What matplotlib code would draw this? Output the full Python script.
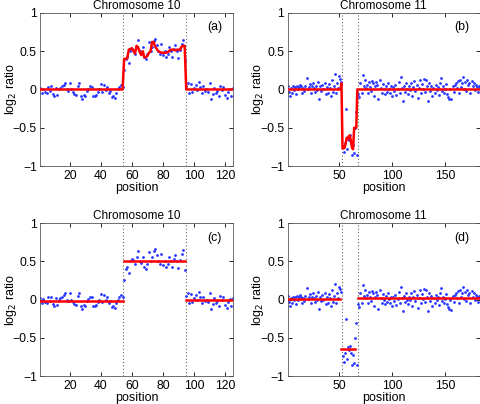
import numpy as np
import matplotlib
matplotlib.use("Agg")
import matplotlib.pyplot as plt

plt.rcParams['font.family'] = ['Liberation Sans', 'DejaVu Sans']
plt.rcParams['font.size'] = 8.5

# chromosome 10: log2 ratios, positions 1..125
chr10_vals = [
    0.02, -0.04, 0.01, -0.03, -0.05, 0.03, -0.02, 0.04, -0.06, -0.09,
    0.02, -0.07, 0.00, 0.02, 0.04, 0.06, 0.09, 0.00, -0.02, 0.08,
    0.00, -0.03, -0.06, -0.07, 0.05, 0.09, -0.09, -0.12, -0.07, -0.08,
    -0.02, 0.01, 0.04, 0.03, -0.09, -0.09, -0.07, -0.03, 0.00, 0.07,
    -0.03, 0.06, -0.01, 0.03, -0.05, -0.02, -0.10, -0.08, -0.11, -0.04,
    0.00, 0.03, 0.06, 0.03,
    0.25, 0.40, 0.42, 0.35, 0.50, 0.53, 0.52, 0.47, 0.55, 0.64,
    0.50, 0.48, 0.55, 0.42, 0.40, 0.47, 0.62, 0.50, 0.55, 0.63,
    0.66, 0.58, 0.50, 0.47, 0.60, 0.45, 0.50, 0.42, 0.47, 0.55,
    0.50, 0.42, 0.53, 0.58, 0.50, 0.41, 0.52, 0.60, 0.65, 0.38,
    0.05, 0.09, -0.04, 0.07, -0.03, 0.02, 0.06, -0.01, 0.10, 0.03,
    -0.05, 0.04, -0.02, 0.00, -0.03, 0.08, -0.12, -0.06, 0.02, -0.04,
    -0.02, -0.08, 0.05, -0.01, 0.03, -0.07, -0.11, -0.03, 0.01, -0.09,
    0.02,
]

# smoothed fit for chromosome 10 (panel a)
chr10_fit = [0.0] * 54 + [
    0.40, 0.40, 0.41, 0.52, 0.53, 0.54, 0.50, 0.47, 0.57, 0.55,
    0.49, 0.45, 0.50, 0.42, 0.42, 0.44, 0.48, 0.50, 0.62, 0.62,
    0.56, 0.53, 0.50, 0.49, 0.48, 0.48, 0.48, 0.48, 0.49, 0.50,
    0.52, 0.52, 0.52, 0.51, 0.52, 0.52, 0.52, 0.56, 0.57, 0.57,
] + [0.0] * 31

# chromosome 11: log2 ratios, positions 1..183
chr11_vals = [
    0.05, -0.03, -0.08, 0.02, -0.05, 0.04, -0.01, 0.03, -0.06, 0.05,
    0.00, 0.03, 0.06, 0.04, -0.04, 0.02, -0.02, 0.05, 0.15, 0.01,
    0.03, 0.07, -0.05, 0.04, 0.08, 0.02, -0.03, 0.05, -0.01, 0.10,
    -0.12, 0.04, -0.02, 0.06, 0.00, 0.09, -0.06, 0.03, -0.04, 0.07,
    0.02, -0.08, 0.12, -0.03, 0.05, 0.20, -0.05, 0.08, 0.02, 0.17,
    0.14, 0.10,
    -0.74, -0.82, -0.70, -0.26, -0.78, -0.62, -0.66, -0.60, -0.70, -0.85,
    -0.72, -0.83, -0.50, -0.30, -0.86,
    -0.06, -0.10, 0.08, -0.04, 0.19, 0.05, 0.13, 0.02, 0.06, -0.05,
    0.10, 0.03, -0.02, 0.11, 0.08, -0.08, 0.04, 0.10, 0.06, -0.12,
    0.12, 0.02, -0.04, 0.07, 0.00, -0.06, 0.05, -0.03, 0.09, 0.01,
    -0.05, 0.04, -0.09, 0.03, -0.02, 0.06, -0.07, 0.01, 0.10, -0.04,
    0.16, 0.02, -0.15, 0.05, -0.03, 0.08, 0.00, -0.06, 0.04, -0.01,
    0.09, -0.08, 0.03, 0.11, -0.02, 0.06, -0.11, 0.02, 0.13, -0.05,
    0.07, 0.01, 0.14, -0.03, 0.12, 0.04, -0.15, 0.08, -0.02, 0.05,
    -0.09, 0.02, -0.05, 0.06, -0.01, 0.03, -0.07, 0.08, 0.15, -0.02,
    0.04, -0.04, 0.01, 0.07, -0.06, -0.10, -0.12, 0.00, -0.13, 0.05,
    -0.03, 0.06, 0.09, 0.02, 0.11, -0.04, 0.12, 0.03, 0.08, 0.16,
    0.01, 0.10, -0.02, 0.13, 0.06, 0.09, -0.05, 0.11, 0.04, 0.08,
    -0.01, 0.06, 0.03, -0.03, 0.05, 0.02,
]

# smoothed fit for chromosome 11 (panel b)
chr11_fit = [0.0] * 51 + [
    0.08, -0.77, -0.77, -0.76, -0.70, -0.63, -0.65, -0.61, -0.60, -0.68,
    -0.76, -0.78, -0.50, -0.50, -0.50,
] + [0.0] * 117

# segmentation (panels c, d): start, end, level
chr10_seg_start = [1, 55, 95]
chr10_seg_end = [54, 94, 125]
chr10_seg_level = [-0.02, 0.50, -0.01]
chr11_seg_start = [1, 52, 68]
chr11_seg_end = [51, 65, 183]
chr11_seg_level = [0.01, -0.65, 0.02]

chr10_breaks = [54.5, 94.8]
chr11_breaks = [52.5, 67.5]

fig = plt.figure(figsize=(4.8, 4.04), dpi=100)
W, H = 0.401, 0.379
boxes = {'a': [0.084, 0.589], 'b': [0.599, 0.589],
         'c': [0.084, 0.069], 'd': [0.599, 0.069]}


def setup(ax, title, label, xmax, xticks, breaks):
    for b in breaks:
        ax.axvline(b, color='0.4', ls=(0, (1, 2)), lw=0.8, zorder=1)
    ax.set_xlim(1, xmax)
    ax.set_ylim(-1, 1)
    ax.set_xticks(xticks)
    ax.set_yticks([-1, -0.5, 0, 0.5, 1])
    ax.set_yticklabels(['\u22121', '\u22120.5', '0', '0.5', '1'])
    ax.tick_params(direction='in', length=3, width=0.6, top=True, right=True,
                   labelsize=8.8, pad=2.5)
    for s in ax.spines.values():
        s.set_linewidth(0.6)
        s.set_color('0.35')
    ax.set_title(title, fontsize=8.5, pad=3)
    ax.set_xlabel('position', fontsize=9, labelpad=0.5)
    ax.set_ylabel('log$_2$ ratio', fontsize=9)
    ax.yaxis.set_label_coords(-0.112, 0.5)
    ax.text(0.905, 0.905, label, transform=ax.transAxes, ha='center',
            va='center', fontsize=8.8)


x10 = np.arange(1, len(chr10_vals) + 1)
x11 = np.arange(1, len(chr11_vals) + 1)
dot = dict(ls='none', marker='.', color='#2838ff', ms=2.0, zorder=2)

ax = fig.add_axes(boxes['a'] + [W, H])
ax.plot(x10, chr10_vals, **dot)
ax.plot(x10, chr10_fit, '-', color='red', lw=1.8, zorder=3)
setup(ax, 'Chromosome 10', '(a)', 125, [20, 40, 60, 80, 100, 120], chr10_breaks)

ax = fig.add_axes(boxes['b'] + [W, H])
ax.plot(x11, chr11_vals, **dot)
ax.plot(x11, chr11_fit, '-', color='red', lw=1.8, zorder=3)
setup(ax, 'Chromosome 11', '(b)', 183, [50, 100, 150], chr11_breaks)

ax = fig.add_axes(boxes['c'] + [W, H])
ax.plot(x10, chr10_vals, **dot)
for s, e, lv in zip(chr10_seg_start, chr10_seg_end, chr10_seg_level):
    ax.plot([s, e], [lv, lv], '-', color='red', lw=1.8, zorder=3)
setup(ax, 'Chromosome 10', '(c)', 125, [20, 40, 60, 80, 100, 120], chr10_breaks)

ax = fig.add_axes(boxes['d'] + [W, H])
ax.plot(x11, chr11_vals, **dot)
for s, e, lv in zip(chr11_seg_start, chr11_seg_end, chr11_seg_level):
    ax.plot([s, e], [lv, lv], '-', color='red', lw=1.8, zorder=3)
setup(ax, 'Chromosome 11', '(d)', 183, [50, 100, 150], chr11_breaks)

fig.savefig('out.png', dpi=100)
